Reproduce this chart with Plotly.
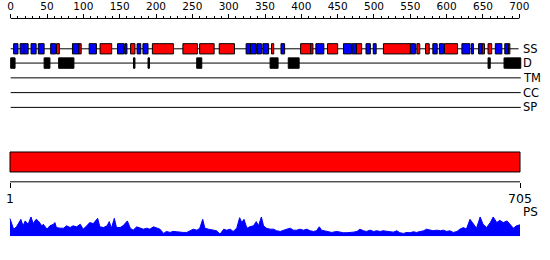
import plotly.graph_objects as go

# ---------------- data ----------------
seq_len = 705
ruler_major = list(range(0, 701, 50))
ruler_minor = list(range(0, 701, 10))
track_names = ["SS", "D", "TM", "CC", "SP"]

strand_segs = [(4, 10), (13, 18), (18, 24), (28, 35), (38, 46), (55, 62), (85, 94),
               (108, 118), (147, 156), (157, 160), (174, 179), (182, 189), (324, 330),
               (330, 338), (339, 345), (347, 355), (372, 377), (420, 431), (458, 469),
               (470, 476), (489, 495), (499, 503), (550, 557), (581, 587), (590, 596),
               (621, 632), (634, 637), (644, 649), (667, 676), (680, 685)]
helix_segs = [(63, 67), (94, 97), (123, 139), (165, 171), (195, 224), (237, 257),
              (260, 280), (287, 308), (359, 362), (399, 413), (413, 416), (436, 450),
              (476, 483), (513, 550), (559, 563), (571, 576), (597, 615), (649, 652),
              (657, 662), (685, 687)]
disorder_segs = [(0, 6), (46, 54), (66, 87), (169, 171), (189, 191), (256, 263),
                 (357, 368), (382, 397), (657, 660), (679, 680), (681, 702)]

ps_pos = [1, 6, 10, 16, 19, 22, 26, 30, 33, 37,
          40, 45, 47, 52, 56, 61, 63, 65, 70, 75,
          79, 84, 88, 93, 98, 102, 107, 111, 116, 122,
          125, 130, 135, 138, 141, 145, 148, 153, 157, 163,
          167, 171, 176, 181, 185, 190, 194, 199, 204, 208,
          213, 217, 222, 226, 231, 236, 240, 245, 250, 254,
          259, 263, 267, 270, 275, 282, 286, 291, 296, 300,
          305, 309, 314, 318, 321, 324, 328, 332, 337, 341,
          344, 348, 351, 355, 360, 365, 369, 374, 378, 383,
          388, 392, 397, 401, 406, 411, 415, 420, 424, 428,
          431, 436, 440, 445, 452, 457, 461, 466, 470, 475,
          480, 484, 489, 493, 498, 503, 507, 512, 516, 521,
          526, 530, 535, 539, 544, 549, 553, 558, 562, 567,
          572, 576, 581, 585, 590, 595, 599, 604, 608, 613,
          618, 622, 627, 631, 636, 641, 645, 650, 654, 659,
          664, 668, 673, 677, 682, 687, 691, 696, 700, 705]
ps_val = [18, 7.3, 9.7, 17.3, 10.7, 15.7, 12.3, 19.7, 13, 17.3,
          15.7, 10.7, 12.3, 7.3, 10.7, 12.3, 14, 9, 8.3, 8.3,
          10.7, 9, 10.7, 9.7, 12.3, 7.3, 10.7, 14, 13, 18.3,
          9.7, 9, 10.7, 15, 8.3, 18.3, 9, 9, 10.7, 15.7,
          8.3, 6.3, 9.7, 8.3, 7.3, 8.3, 7.3, 9.7, 8.3, 7.3,
          3, 5, 4, 5, 4.7, 4, 4, 4, 5.7, 7.3,
          6.3, 8.3, 17.3, 8.3, 7.3, 6.3, 5.7, 2.3, 7.3, 6.3,
          7.3, 5, 8.3, 19, 14, 17.3, 8.3, 9.7, 10.7, 15,
          10.7, 19.7, 10.7, 8.3, 7.3, 7.3, 5.7, 5, 6.3, 7.3,
          8.3, 6.3, 6.3, 7.3, 6.3, 7.3, 5.7, 5, 5.7, 9.7,
          6.3, 5.7, 5, 4, 5, 4, 3.7, 3.7, 3.7, 4.3,
          5, 7.3, 5.7, 5, 6.3, 5, 5.7, 5, 5.7, 5,
          5, 4.3, 5.7, 3.7, 3, 4, 3.7, 4.7, 4, 5,
          5.7, 7.3, 6.3, 5.7, 6.3, 5.7, 6.3, 5, 5.7, 4,
          5, 7.3, 9, 7.3, 17.3, 12.3, 8.3, 19.7, 12.3, 9,
          14, 19.7, 14, 16.3, 14, 15.7, 12.3, 8.3, 10.7, 11.7]

# ---------------- layout constants (pixels) ----------------
W, H = 550, 260
FONT = "DejaVu Sans"
RULER_Y = 14.7
ROW_Y = {"SS": 45.5, "D": 60.0, "TM": 75.0, "CC": 90.0, "SP": 105.0}
SS_HALF, D_HALF = 5.2, 5.3
LINE_END = 702
BAR_TOP, BAR_BOT = 150.3, 170.6
SCALE_Y = 180.6
PS_BASE, PS_TOP = 236.0, 214.0
PS_MAX = 22

# top scale: 0 -> 10.7px, 700 -> 519.3px
s1 = (519.3 - 10.7) / 700
x1_min = 0 - 10.7 / s1
x1_max = x1_min + W / s1
# bottom scale: 1 -> 10px, 705 -> 520px
s2 = (520 - 10) / (seq_len - 1)
x2_min = 1 - 10 / s2
x2_max = x2_min + W / s2


def py(p):
    return 1 - p / H


shapes = []
# ruler line
shapes.append(dict(type="line", xref="x", yref="paper", x0=0, x1=700,
                   y0=py(RULER_Y), y1=py(RULER_Y), line=dict(color="black", width=1)))
# track baselines
for name in track_names:
    end = 699 if name == "SS" else LINE_END
    shapes.append(dict(type="line", xref="x", yref="paper", x0=0, x1=end,
                       y0=py(ROW_Y[name]), y1=py(ROW_Y[name]),
                       line=dict(color="black", width=1), layer="below"))


def box(seg, yc, half, color):
    return dict(type="rect", xref="x", yref="paper", x0=seg[0], x1=seg[1],
                y0=py(yc + half), y1=py(yc - half), fillcolor=color,
                line=dict(color="black", width=1))


for seg in strand_segs:
    shapes.append(box(seg, ROW_Y["SS"], SS_HALF, "#0000ff"))
for seg in helix_segs:
    shapes.append(box(seg, ROW_Y["SS"], SS_HALF, "#ff0000"))
for seg in disorder_segs:
    shapes.append(box(seg, ROW_Y["D"], D_HALF, "black"))

# full length bar and bottom scale line
shapes.append(dict(type="rect", xref="x2", yref="paper", x0=1, x1=seq_len,
                   y0=py(BAR_BOT), y1=py(BAR_TOP), fillcolor="#ff0000",
                   line=dict(color="black", width=1)))
shapes.append(dict(type="line", xref="x2", yref="paper", x0=1, x1=seq_len,
                   y0=py(SCALE_Y), y1=py(SCALE_Y), line=dict(color="black", width=1)))

annotations = []
for name in track_names:
    annotations.append(dict(text=name, xref="paper", yref="paper", x=521 / W, y=py(ROW_Y[name]),
                            xanchor="left", yanchor="middle", showarrow=False,
                            font=dict(family=FONT, size=11.5, color="black")))
annotations.append(dict(text="PS", xref="paper", yref="paper", x=520.5 / W, y=py(211),
                        xanchor="left", yanchor="middle", showarrow=False,
                        font=dict(family=FONT, size=12, color="black")))

fig = go.Figure()
fig.add_trace(go.Scatter(x=[0], y=[0.5], xaxis="x", yaxis="y", mode="markers",
                         marker=dict(opacity=0), hoverinfo="skip", showlegend=False))
fig.add_trace(go.Scatter(x=ps_pos, y=ps_val, xaxis="x2", yaxis="y2", mode="lines",
                         fill="tozeroy", fillcolor="#0000ff",
                         line=dict(color="#0000ff", width=1), hoverinfo="skip",
                         showlegend=False))

fig.update_layout(
    width=W, height=H, autosize=False,
    margin=dict(l=0, r=0, t=0, b=0, pad=0),
    paper_bgcolor="white", plot_bgcolor="white",
    showlegend=False,
    font=dict(family=FONT, color="black"),
    xaxis=dict(range=[x1_min, x1_max], domain=[0, 1], anchor="free", position=py(RULER_Y),
               side="top", showgrid=False, zeroline=False, showline=False,
               tickmode="array", tickvals=ruler_major, ticktext=[str(v) for v in ruler_major],
               ticks="outside", ticklen=4, tickwidth=1, tickcolor="black",
               tickfont=dict(family=FONT, size=10.5, color="black"),
               minor=dict(tickmode="array", tickvals=ruler_minor, ticks="outside",
                          ticklen=2.5, tickwidth=1, tickcolor="black", showgrid=False)),
    yaxis=dict(range=[0, 1], domain=[0, 1], visible=False, fixedrange=True),
    xaxis2=dict(range=[x2_min, x2_max], domain=[0, 1], anchor="free", position=py(SCALE_Y),
                side="bottom", showgrid=False, zeroline=False, showline=False,
                tickmode="array", tickvals=[1, seq_len], ticktext=["1", str(seq_len)],
                ticks="outside", ticklen=5, tickwidth=1, tickcolor="black",
                tickfont=dict(family=FONT, size=12.5, color="black")),
    yaxis2=dict(range=[0, PS_MAX], domain=[py(PS_BASE), py(PS_TOP)], anchor="free",
                position=0, visible=False),
    shapes=shapes,
    annotations=annotations,
)

fig.write_html("out.html")
